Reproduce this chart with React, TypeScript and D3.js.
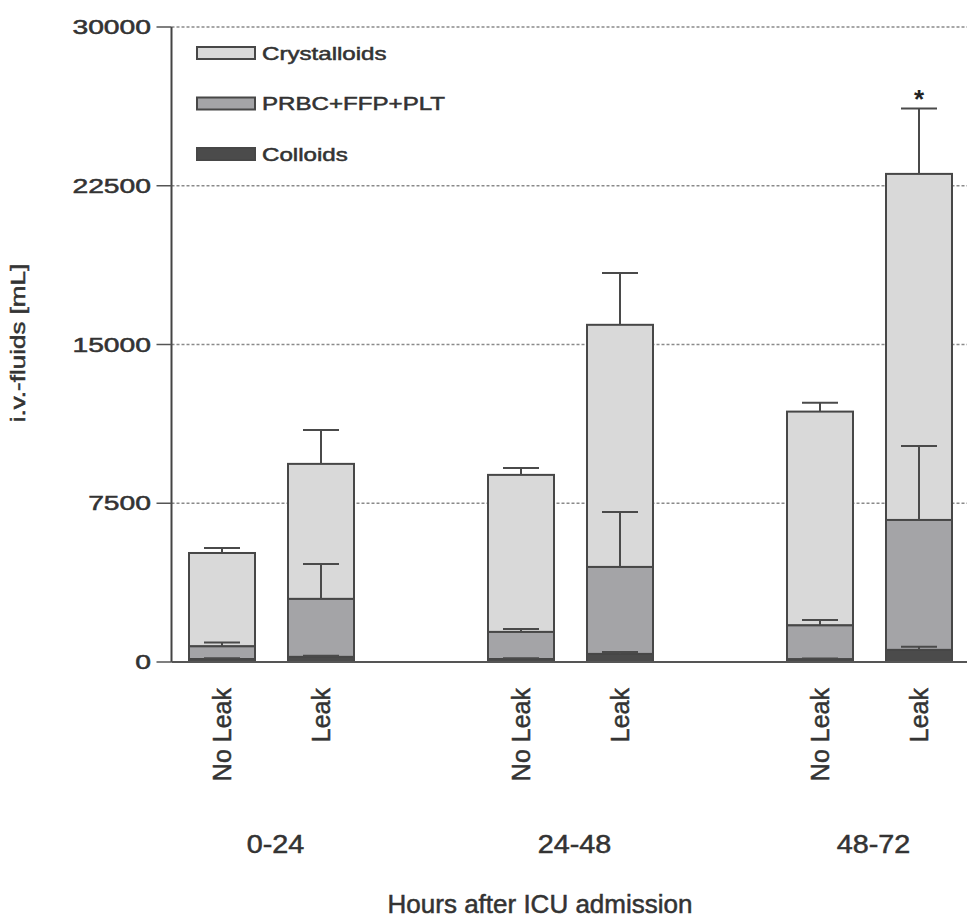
import React from "react";
import * as d3 from "d3";

// Time windows after ICU admission and patient groups
const groups = ["0-24", "24-48", "48-72"];
const conditions = ["No Leak", "Leak"];

// Mean volumes per bar (order: 0-24 NL, 0-24 L, 24-48 NL, 24-48 L, 48-72 NL, 48-72 L)
const colloids = [140, 240, 140, 380, 130, 570];
const colloidsErr = [40, 50, 40, 90, 40, 150];
const prbc = [600, 2740, 1280, 4110, 1600, 6140];
const prbcErr = [180, 1650, 140, 2600, 260, 3490];
const crystalloids = [4410, 6380, 7420, 11440, 10100, 16350];
const crystalloidsErr = [240, 1600, 330, 2450, 420, 3090];

const yTicks = [0, 7500, 15000, 22500, 30000];
const significant = [false, false, false, false, false, true];

const seriesNames = ["Crystalloids", "PRBC+FFP+PLT", "Colloids"];
const seriesColors = ["#d9d9d9", "#a4a4a7", "#4b4b4b"];

const W = 967;
const H = 921;
const axisX = 171.5;
const rightX = 967;
const zeroY = 662;
const topY = 27;
const barW = 66;
const FONT = "'Liberation Sans', Arial, Helvetica, sans-serif";
const TEXT = "#333";
const STROKE = "#474747";
// light outline on glyphs gives the slightly heavy print look
const textWeight = { stroke: TEXT, strokeWidth: 0.5 };

export default function App() {
  const y = d3.scaleLinear().domain([0, 30000]).range([zeroY, topY]);
  const gx = d3.scalePoint<string>().domain(groups).range([271.5, 869.5]);
  const cx = d3.scalePoint<string>().domain(conditions).range([-49.5, 49.5]);

  const bars = groups.flatMap((g, gi) =>
    conditions.map((c, ci) => {
      const i = gi * conditions.length + ci;
      const x = (gx(g) as number) + (cx(c) as number);
      const c0 = colloids[i];
      const c1 = c0 + prbc[i];
      const c2 = c1 + crystalloids[i];
      return {
        i,
        x,
        label: c,
        segments: [
          { lo: 0, hi: c0, err: colloidsErr[i], color: seriesColors[2] },
          { lo: c0, hi: c1, err: prbcErr[i], color: seriesColors[1] },
          { lo: c1, hi: c2, err: crystalloidsErr[i], color: seriesColors[0] },
        ],
      };
    })
  );

  const capW = 36;

  return (
    <svg
      width={W}
      height={H}
      viewBox={`0 0 ${W} ${H}`}
      style={{ position: "absolute", left: 0, top: 0, background: "#fff" }}
      fontFamily={FONT}
    >
      <rect x={0} y={0} width={W} height={H} fill="#fff" />

      {/* dashed horizontal gridlines */}
      {yTicks
        .filter((t) => t > 0)
        .map((t) => (
          <line
            key={`g${t}`}
            x1={axisX}
            x2={rightX}
            y1={y(t)}
            y2={y(t)}
            stroke="#8a8a8a"
            strokeWidth={1.5}
            strokeDasharray="3 2"
          />
        ))}

      {/* stacked bars */}
      {bars.map((b) => (
        <g key={`b${b.i}`}>
          {b.segments
            .slice()
            .reverse()
            .map((s, si) => (
              <rect
                key={si}
                x={b.x - barW / 2}
                y={y(s.hi)}
                width={barW}
                height={y(s.lo) - y(s.hi)}
                fill={s.color}
                stroke={STROKE}
                strokeWidth={2}
              />
            ))}
        </g>
      ))}

      {/* error bars (upper SEM) */}
      {bars.map((b) =>
        b.segments.map((s, si) => (
          <g key={`e${b.i}-${si}`} stroke="#4a4a4a" strokeWidth={2}>
            <line x1={b.x} x2={b.x} y1={y(s.hi)} y2={y(s.hi + s.err)} />
            <line
              x1={b.x - capW / 2}
              x2={b.x + capW / 2}
              y1={y(s.hi + s.err)}
              y2={y(s.hi + s.err)}
            />
          </g>
        ))
      )}

      {/* significance marker */}
      {bars
        .filter((b) => significant[b.i])
        .map((b) => {
          const top = b.segments[2].hi + b.segments[2].err;
          return (
            <text
              key={`s${b.i}`}
              x={b.x}
              y={y(top)}
              textAnchor="middle"
              fontSize={26}
              fontWeight="bold"
              fill="#222"
            >
              *
            </text>
          );
        })}

      {/* axes */}
      <line x1={axisX} x2={axisX} y1={topY} y2={zeroY} stroke="#444" strokeWidth={2} />
      <line x1={axisX} x2={rightX} y1={zeroY} y2={zeroY} stroke="#555" strokeWidth={2} />
      {yTicks.map((t) => (
        <g key={`t${t}`}>
          <line x1={axisX - 15} x2={axisX} y1={y(t)} y2={y(t)} stroke="#555" strokeWidth={1.5} />
          <text
            transform={`translate(151,${y(t) + 7}) scale(1.45,1)`}
            textAnchor="end"
            fontSize={19.5}
            fill={TEXT}
            {...textWeight}
          >
            {String(t)}
          </text>
        </g>
      ))}

      {/* y-axis title */}
      <text
        transform={`translate(25,343) rotate(-90) scale(1.3,1)`}
        textAnchor="middle"
        fontSize={20}
        fill={TEXT}
        {...textWeight}
      >
        i.v.-fluids [mL]
      </text>

      {/* rotated condition labels */}
      {bars.map((b) => (
        <text
          key={`l${b.i}`}
          transform={`translate(${b.x + 9},688) rotate(-90)`}
          textAnchor="end"
          fontSize={25}
          fill={TEXT}
          {...textWeight}
        >
          {b.label}
        </text>
      ))}

      {/* group labels */}
      {groups.map((g) => (
        <text
          key={`gl${g}`}
          transform={`translate(${(gx(g) as number) + 4},853) scale(1.15,1)`}
          textAnchor="middle"
          fontSize={25}
          fill={TEXT}
          {...textWeight}
        >
          {g}
        </text>
      ))}

      <text
        transform="translate(540,913) scale(1.04,1)"
        textAnchor="middle"
        fontSize={25}
        fill={TEXT}
        {...textWeight}
      >
        Hours after ICU admission
      </text>

      {/* legend */}
      {seriesNames.map((n, k) => {
        const cy = 53 + k * 50.5;
        return (
          <g key={`lg${n}`}>
            <rect
              x={197}
              y={cy - 6}
              width={58}
              height={12}
              fill={seriesColors[k]}
              stroke={STROKE}
              strokeWidth={2}
            />
            <text
              transform={`translate(262,${cy + 6.5}) scale(1.34,1)`}
              fontSize={18}
              fill={TEXT}
              {...textWeight}
            >
              {n}
            </text>
          </g>
        );
      })}
    </svg>
  );
}
